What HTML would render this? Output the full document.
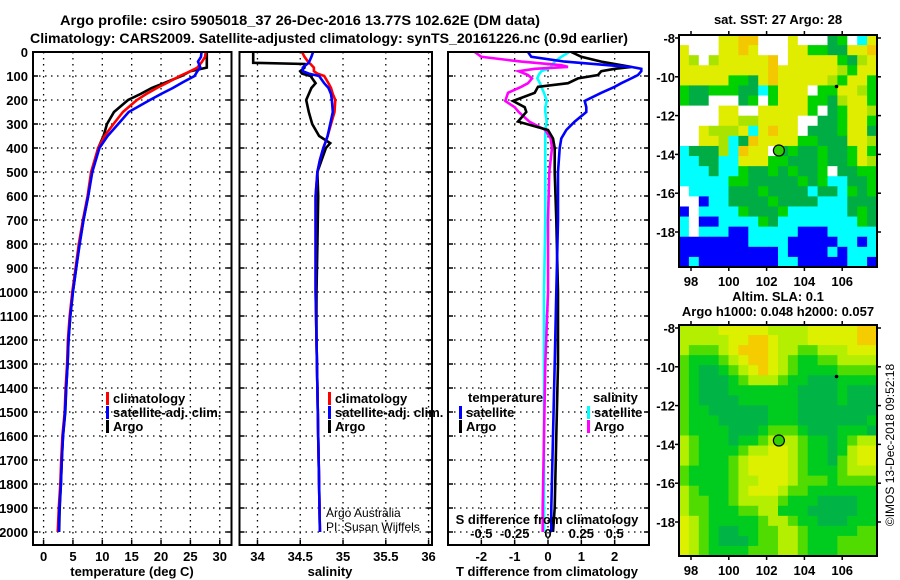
<!DOCTYPE html>
<html><head><meta charset="utf-8">
<style>
html,body{margin:0;padding:0;background:#fff;}
svg{display:block;font-family:"Liberation Sans",Arial,sans-serif;font-weight:bold;}
</style></head>
<body>
<svg id="chart" width="900" height="580" viewBox="0 0 900 580" xmlns="http://www.w3.org/2000/svg">
<rect width="900" height="580" fill="#fff"/>
<text x="300" y="25" font-size="14" text-anchor="middle" textLength="480" lengthAdjust="spacingAndGlyphs">Argo profile: csiro 5905018_37 26-Dec-2016 13.77S 102.62E (DM data)</text>
<text x="329" y="43" font-size="14" text-anchor="middle" textLength="598" lengthAdjust="spacingAndGlyphs">Climatology: CARS2009. Satellite-adjusted climatology: synTS_20161226.nc (0.9d earlier)</text>
<g id="plots"></g>
</svg>
<script>
// ---------- data ----------
const depthT = [0,20,40,65,80,100,125,150,175,200,250,300,350,400,500,600,700,800,900,1000,1100,1200,1300,1400,1500,1600,1700,1800,1900,2000];
const tempArgo = [27.8,27.8,27.8,27.8,25,23.5,21,18.4,16.5,14.4,12,10.8,10.2,9.3,8.2,7.6,6.8,6.1,5.55,5.0,4.55,4.25,4.1,3.85,3.7,3.3,3.1,2.95,2.75,2.65];
const tempClim = [27.6,27.5,27,26.2,25,23.2,21.3,19.3,17.5,15.9,13.5,11.9,10.4,9.3,8.1,7.5,6.7,6.0,5.45,4.9,4.45,4.15,4.0,3.75,3.6,3.2,3.0,2.85,2.6,2.4];
const tempSat = [26.9,26.8,26.3,26.7,26.2,25.7,23.8,22,20,18.1,14.5,12.7,10.9,9.5,8.3,7.6,6.8,6.15,5.55,5.0,4.55,4.25,4.1,3.85,3.65,3.3,3.1,2.95,2.7,2.6];

const depthS = [0,20,45,50,65,80,90,100,130,150,175,200,250,300,350,380,400,450,500,600,800,1000,1200,1400,1600,1800,2000];
const salArgo = [33.95,33.95,33.95,34.55,34.55,34.5,34.52,34.62,34.68,34.63,34.6,34.57,34.6,34.64,34.72,34.85,34.8,34.75,34.7,34.71,34.7,34.69,34.69,34.7,34.71,34.72,34.73];
const salClim = [34.52,34.55,34.6,34.62,34.66,34.66,34.7,34.78,34.83,34.86,34.88,34.91,34.9,34.86,34.82,34.79,34.77,34.73,34.7,34.68,34.68,34.68,34.69,34.7,34.71,34.72,34.73];
const salSat = [34.65,34.63,34.6,34.58,34.53,34.53,34.6,34.72,34.78,34.83,34.86,34.87,34.88,34.85,34.82,34.79,34.77,34.73,34.7,34.68,34.68,34.68,34.69,34.7,34.71,34.72,34.73];

const depthD = [0,20,40,55,62,70,80,96,110,130,145,170,204,230,250,290,325,360,400,500,700,1000,1300,1600,1900,2000];
const tdArgo = [0.7,1.0,1.6,2.2,2.5,2.0,1.6,1.5,0.9,0.6,-0.3,-0.4,-1.05,-0.7,-0.65,-0.9,0.0,0.15,0.2,0.2,0.25,0.3,0.3,0.25,0.2,0.15];
const tdSat = [-0.6,-0.5,0.5,1.8,2.5,2.8,2.8,2.7,2.5,2.2,2.0,1.6,1.1,1.15,1.15,0.8,0.55,0.4,0.35,0.3,0.3,0.25,0.2,0.15,0.1,0.1];
const sdArgo = [-0.55,-0.5,-0.2,0.1,0.15,-0.1,-0.22,-0.15,-0.12,-0.15,-0.2,-0.3,-0.32,-0.25,-0.22,-0.14,-0.02,0.02,0.03,0.01,0,0,-0.02,-0.03,-0.04,-0.04];
const sdSat = [0.16,0.1,0.05,0.03,0.02,0,-0.05,-0.07,-0.08,-0.06,-0.05,-0.03,-0.01,-0.02,-0.02,-0.01,-0.02,-0.02,-0.02,-0.02,-0.02,-0.03,-0.03,-0.03,-0.03,-0.03];

const depthTicks = [0,100,200,300,400,500,600,700,800,900,1000,1100,1200,1300,1400,1500,1600,1700,1800,1900,2000];
const tempTicks = [0,5,10,15,20,25,30];
const salTicks = [34,34.5,35,35.5,36];
const salTickLabels = ["34","34.5","35","35.5","36"];
const tdTicks = [-2,-1,0,1,2];
const sdTicks = [-0.5,-0.25,0,0.25,0.5];
const sdTickLabels = ["-0.5","-0.25","0","0.25","0.5"];

const sstRows = [
"wwwwyyoowwwywwwdgwcy",
"ywwwyyoywwwyyggddyyo",
"ylwlyyyyyowyyyyygdly",
"yyyyyyyyyoyyyyyylgyy",
"yyyyyggdyoyyyyylgyyg",
"gddgggddcgyyywggyylg",
"gddwwwdgwgyyyggdlyyg",
"wwwwyywwyyyyygwdgyyl",
"wwwwyyllyyyywwddgyyg",
"wwylllycyoyywdddgyyd",
"wwyylcdoyyyyggdddyyl",
"cdddlcoyywdgddgddgyg",
"ccddccyyyggdddgddgyl",
"cccdccgddgdgddgwddgg",
"cccccggdddddgdgccddg",
"wccccdddgddddcddcgdg",
"wwbccddddgddddcccddd",
"bwccccgdddgccccccdgd",
"cwbbccccgdccccccccgd",
"cwcccbbcccccbbbccccc",
"bbbbbbbccccbbbbbccbc",
"bbbbbbbbbbcbbbbcbccc",
"bcbbbbbbbbccbbbbbccb"];
const slaRows = [
"33334444433334444455",
"33333445543334444455",
"32223455543322333444",
"21112345543211223333",
"21001234543211112222",
"21000123332110001111",
"21000111111100001000",
"21000011111100001000",
"21100000011100000000",
"21110000011100000001",
"21111000122210001110",
"32111011233321101233",
"32111123344321101344",
"32111234444321102344",
"21111234444321112333",
"21111233444322212222",
"32111234443221111111",
"32211233332111000011",
"32211122331110000011",
"43211111233211000111",
"43210011223321111122",
"43210001223321112222",
"43211112223321112222"];
const lonTicks = [98,100,102,104,106];
const latTicks = [-8,-10,-12,-14,-16,-18];
const argoPos = [102.65,-13.8];
const otherPos = [105.7,-10.5];

// ---------- helpers ----------
const NS="http://www.w3.org/2000/svg";
const root=document.getElementById('plots');
function mk(tag,attrs,parent){const e=document.createElementNS(NS,tag);for(const k in attrs)e.setAttribute(k,attrs[k]);(parent||root).appendChild(e);return e;}
function txt(s,x,y,size,anchor,parent){const t=mk('text',{x:x,y:y,'font-size':size,'text-anchor':anchor||'middle'},parent);t.textContent=s;return t;}

const Y0=52, PY=0.24, YB=545;
const yD=d=>Y0+d*PY;

function panel(name,x0,x1,vmin,vmax){
  const g=mk('g',{});
  
  
  const sx=v=>x0+(v-vmin)/(vmax-vmin)*(x1-x0);
  return {g,sx,x0,x1};
}
function grid(P,xt,showDepthLabels){
  const gg=mk('g',{},P.g);
  
  
  depthTicks.forEach(d=>{
    const y=yD(d);
    if(d>0) mk('line',{x1:P.x0,x2:P.x1,y1:y,y2:y,stroke:'#000','stroke-width':1.3,'stroke-dasharray':'1.5,4.5'},gg);
    mk('line',{x1:P.x0,x2:P.x0+5,y1:y,y2:y,stroke:'#000','stroke-width':1.5},gg);
    mk('line',{x1:P.x1-5,x2:P.x1,y1:y,y2:y,stroke:'#000','stroke-width':1.5},gg);
    if(showDepthLabels){const t=txt(String(d),28,y+5,13,'end',gg);
      
      }
  });
  xt.forEach(v=>{
    const x=P.sx(v);
    mk('line',{x1:x,x2:x,y1:Y0,y2:YB,stroke:'#000','stroke-width':1.3,'stroke-dasharray':'1.5,4.5'},gg);
    mk('line',{x1:x,x2:x,y1:YB-5,y2:YB,stroke:'#000','stroke-width':1.5},gg);
  });
}
function frame(P){
  const r=mk('rect',{x:P.x0,y:Y0,width:P.x1-P.x0,height:YB-Y0,fill:'none',stroke:'#000','stroke-width':2},P.g);
  
  
}
function line(P,sx,xs,ds,color,name){
  const pts=xs.map((v,i)=>sx(v).toFixed(1)+','+yD(ds[i]).toFixed(1)).join(' ');
  const l=mk('polyline',{points:pts,fill:'none',stroke:color,'stroke-width':2.6,'stroke-linejoin':'miter'},P.g);
  
  
}
function legendEntry(P,x,y,color,label,name){
  const g=mk('g',{},P.g);
  
  
  mk('rect',{x:x,y:y-11,width:3,height:13,fill:color},g);
  txt(label,x+7,y,13,'start',g);
}

// ---------- panel 1: temperature ----------
const P1=panel('temperature-panel',33,231.5,-1.8,32);
grid(P1,tempTicks,true);
line(P1,P1.sx,tempArgo,depthT,'#000','argo-temperature-line');
line(P1,P1.sx,tempClim,depthT,'#f00','climatology-temperature-line');
line(P1,P1.sx,tempSat,depthT,'#00f','satellite-temperature-line');
frame(P1);
tempTicks.forEach(v=>{const t=txt(String(v),P1.sx(v),561,13,'middle',P1.g);
  
  });
{const t=txt('temperature (deg C)',132,576,13,'middle',P1.g);

}
legendEntry(P1,106,403,'#f00','climatology','legend-climatology');
legendEntry(P1,106,417,'#00f','satellite-adj. clim.','legend-satellite-adj');
legendEntry(P1,106,431,'#000','Argo','legend-argo');

// ---------- panel 2: salinity ----------
const P2=panel('salinity-panel',239.5,432,33.79,36.04);
grid(P2,salTicks,false);
line(P2,P2.sx,salArgo,depthS,'#000','argo-salinity-line');
line(P2,P2.sx,salClim,depthS,'#f00','climatology-salinity-line');
line(P2,P2.sx,salSat,depthS,'#00f','satellite-salinity-line');
frame(P2);
salTicks.forEach((v,i)=>{const t=txt(salTickLabels[i],P2.sx(v),561,13,'middle',P2.g);
  
  });
{const t=txt('salinity',330,576,13,'middle',P2.g);

}
legendEntry(P2,328,403,'#f00','climatology','legend-climatology');
legendEntry(P2,328,417,'#00f','satellite-adj. clim.','legend-satellite-adj');
legendEntry(P2,328,431,'#000','Argo','legend-argo');
{const t=txt('Argo Australia',326,517,12,'start',P2.g);t.setAttribute('font-weight','normal');


const t2=txt('PI: Susan Wijffels',326,531,12,'start',P2.g);t2.setAttribute('font-weight','normal');

}

// ---------- panel 3: differences ----------
const P3=panel('difference-panel',448,649,-3,3.03);
const sxS=v=>P3.sx(v*4);
grid(P3,tdTicks,false);
line(P3,sxS,sdSat,depthD,'#0ff','satellite-salinity-diff-line');
line(P3,sxS,sdArgo,depthD,'#f0f','argo-salinity-diff-line');
line(P3,P3.sx,tdArgo,depthD,'#000','argo-temperature-diff-line');
line(P3,P3.sx,tdSat,depthD,'#00f','satellite-temperature-diff-line');
frame(P3);
tdTicks.forEach(v=>{const t=txt(String(v),P3.sx(v),561,13,'middle',P3.g);
  
  });
sdTicks.forEach((v,i)=>{const t=txt(sdTickLabels[i],sxS(v),538,13,'middle',P3.g);
  
  });
{const t=txt('S difference from climatology',547,524,13,'middle',P3.g);


const t2=txt('T difference from climatology',547,576,13,'middle',P3.g);


const t3=txt('temperature',468,402,13,'start',P3.g);


const t4=txt('salinity',593,402,13,'start',P3.g);

}
legendEntry(P3,459,417,'#00f','satellite','legend-t-satellite');
legendEntry(P3,459,431,'#000','Argo','legend-t-argo');
legendEntry(P3,587,417,'#0ff','satellite','legend-s-satellite');
legendEntry(P3,587,431,'#f0f','Argo','legend-s-argo');

// ---------- maps ----------
const sstColor={w:'#ffffff',y:'#e0ec00',o:'#f4c800',l:'#a8e400',g:'#00d200',d:'#00ad44',c:'#00ffff',b:'#0000ff'};
const slaColor=['#00b446','#00cc20','#50dc00','#b4ee00','#dcf000','#f4cc00'];
function map(name,top,bottom,rows,colorFn,titles){
  const g=mk('g',{});
  
  
  const x0=679,x1=877;
  const lonX=lon=>691+(lon-98)*18.9;
  const latY=lat=>top+3+(-8-lat)*19.4;
  const nr=rows.length,nc=rows[0].length;
  const cw=(x1-x0)/nc,ch=(bottom-top)/nr;
  rows.forEach((row,r)=>{
    for(let c=0;c<nc;c++){
      const cell=mk('rect',{x:(x0+c*cw).toFixed(2),y:(top+r*ch).toFixed(2),width:(cw+0.6).toFixed(2),height:(ch+0.6).toFixed(2),fill:colorFn(row[c])},g);
      
      
    }
  });
  mk('rect',{x:x0,y:top,width:x1-x0,height:bottom-top,fill:'none',stroke:'#000','stroke-width':2},g);
  latTicks.forEach(v=>{
    const y=latY(v);
    mk('line',{x1:x0-4,x2:x0,y1:y,y2:y,stroke:'#000','stroke-width':1.5},g);
    mk('line',{x1:x1,x2:x1+4,y1:y,y2:y,stroke:'#000','stroke-width':1.5},g);
    const t=txt(String(v),675,y+5,13,'end',g);
    
    
  });
  lonTicks.forEach(v=>{
    const x=lonX(v);
    mk('line',{x1:x,x2:x,y1:top-4,y2:top,stroke:'#000','stroke-width':1.5},g);
    mk('line',{x1:x,x2:x,y1:bottom,y2:bottom+4,stroke:'#000','stroke-width':1.5},g);
    const t=txt(String(v),x,bottom+19,13,'middle',g);
    
    
  });
  const cp=mk('circle',{cx:lonX(argoPos[0]),cy:latY(argoPos[1]),r:5.5,fill:'#30d000',stroke:'#000','stroke-width':1.2},g);
  
  
  const op=mk('circle',{cx:lonX(otherPos[0]),cy:latY(otherPos[1]),r:1.8,fill:'#000'},g);
  
  
  titles.forEach(t0=>{const t=txt(t0[0],778,t0[1],13,'middle',g);
    
    });
}
map('sst-map',35,267,sstRows,ch=>sstColor[ch],[['sat. SST: 27 Argo: 28',24]]);
map('sla-map',325,556,slaRows,ch=>slaColor[+ch],[['Altim. SLA: 0.1',301],['Argo h1000: 0.048 h2000: 0.057',316]]);
{const t=txt('©IMOS 13-Dec-2018 09:52:18',0,0,12,'middle');
t.setAttribute('font-weight','normal');
t.setAttribute('transform','translate(894,445) rotate(-90)');

}
</script>
</body></html>
